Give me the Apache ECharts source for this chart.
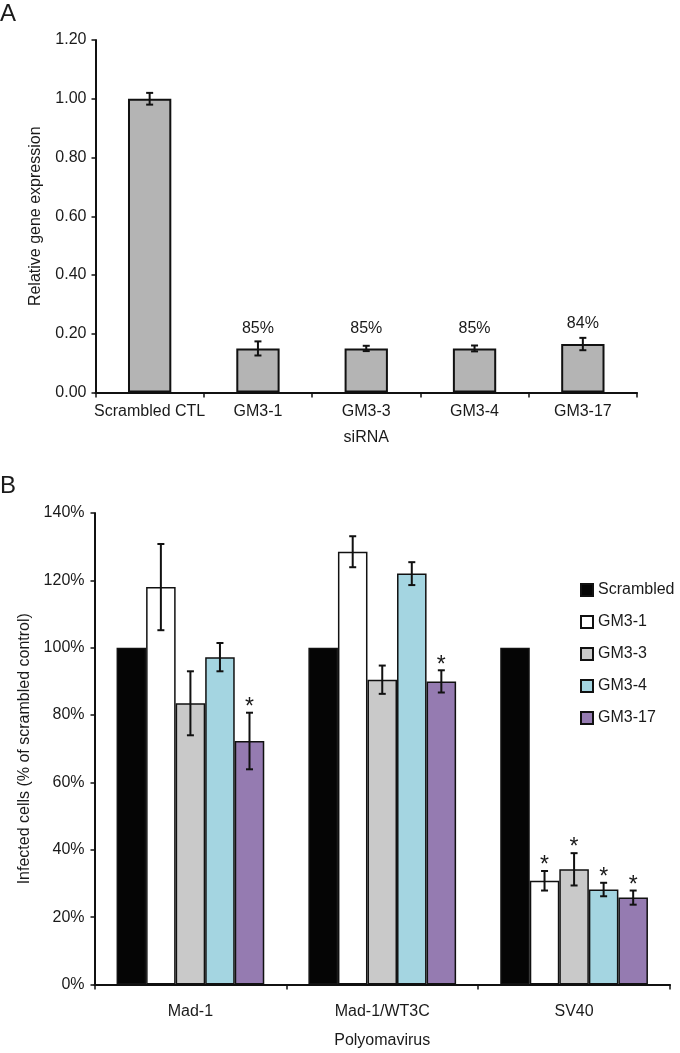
<!DOCTYPE html>
<html>
<head>
<meta charset="utf-8">
<script src="https://cdn.jsdelivr.net/npm/echarts@6/dist/echarts.min.js"></script>
<style>
html,body{margin:0;padding:0;background:#fff;}
#chart{width:680px;height:1053px;}
</style>
</head>
<body>
<div id="chart"></div>
<script>
// ---- Panel A data ----
const catsA = ['Scrambled CTL', 'GM3-1', 'GM3-3', 'GM3-4', 'GM3-17'];
const valsA = [1.00, 0.15, 0.15, 0.15, 0.165];
const errsA = [0.02, 0.024, 0.009, 0.01, 0.021];
const knockdownA = ['', '85%', '85%', '85%', '84%'];
const ticksA = [0, 0.2, 0.4, 0.6, 0.8, 1.0, 1.2];

// ---- Panel B data ----
const catsB = ['Mad-1', 'Mad-1/WT3C', 'SV40'];
const namesB = ['Scrambled', 'GM3-1', 'GM3-3', 'GM3-4', 'GM3-17'];
const scrambledB = [100, 100, 100];
const scrambledErrB = [0, 0, 0];
const gm31B = [118, 128.5, 30.8];
const gm31ErrB = [12.8, 4.6, 2.9];
const gm33B = [83.5, 90.5, 34.2];
const gm33ErrB = [9.5, 4.2, 4.8];
const gm34B = [97.2, 122, 28.2];
const gm34ErrB = [4.2, 3.4, 2.0];
const gm317B = [72.3, 90, 25.8];
const gm317ErrB = [8.4, 3.3, 2.1];
const sigGm31B = [false, false, true];
const sigGm33B = [false, false, true];
const sigGm34B = [false, false, true];
const sigGm317B = [true, true, true];
const ticksB = [0, 20, 40, 60, 80, 100, 120, 140];

const colorsB = ['#050505', '#ffffff', '#c9c9c9', '#a4d5e1', '#957bb1'];
const valsB = [scrambledB, gm31B, gm33B, gm34B, gm317B];
const errsB = [scrambledErrB, gm31ErrB, gm33ErrB, gm34ErrB, gm317ErrB];
const sigsB = [[false, false, false], sigGm31B, sigGm33B, sigGm34B, sigGm317B];

const FONT = '"Liberation Sans", Arial, Helvetica, sans-serif';
const TXT = '#1a1a1a';

function errRender(idx, n, gapFrac, capHalf, sigArr) {
  return function (params, api) {
    const ci = api.value(0), v = api.value(1), e = api.value(2);
    const cw = api.size([1, 0])[0];
    const bw = cw * (1 - gapFrac) / n;
    const off = (idx - (n - 1) / 2) * bw;
    const top = api.coord([ci, v + e]);
    const bot = api.coord([ci, v - e]);
    const x = top[0] + off;
    const st = { stroke: '#111', lineWidth: 2 };
    const children = [];
    if (e > 0) {
      children.push({ type: 'line', shape: { x1: x, y1: top[1], x2: x, y2: bot[1] }, style: st });
      children.push({ type: 'line', shape: { x1: x - capHalf, y1: top[1], x2: x + capHalf, y2: top[1] }, style: st });
      children.push({ type: 'line', shape: { x1: x - capHalf, y1: bot[1], x2: x + capHalf, y2: bot[1] }, style: st });
    }
    if (sigArr && sigArr[ci]) {
      children.push({ type: 'text', x: x, y: top[1] - 5,
        style: { text: '*', fill: TXT, font: '23px ' + FONT, align: 'center', verticalAlign: 'middle' } });
    }
    return { type: 'group', children: children };
  };
}

const series = [];
// Panel A bars
series.push({
  type: 'bar', name: 'A', xAxisIndex: 0, yAxisIndex: 0,
  data: valsA, barCategoryGap: '60%',
  itemStyle: { color: '#b4b4b4', borderColor: '#111', borderWidth: 2 },
  label: { show: true, position: 'top', distance: 12, color: TXT, fontSize: 16, fontFamily: FONT,
    formatter: p => knockdownA[p.dataIndex] }
});
series.push({
  type: 'custom', name: 'errA', xAxisIndex: 0, yAxisIndex: 0, z: 5,
  renderItem: errRender(0, 1, 0.6, 3.5, null),
  data: valsA.map((v, i) => [i, v, errsA[i]])
});
// Panel B bars
namesB.forEach((nm, i) => {
  series.push({
    type: 'bar', name: nm, xAxisIndex: 1, yAxisIndex: 1,
    data: valsB[i], barGap: '0%', barCategoryGap: '23%',
    itemStyle: { color: colorsB[i], borderColor: '#111', borderWidth: 1.5 }
  });
});
namesB.forEach((nm, i) => {
  series.push({
    type: 'custom', name: 'err' + nm, xAxisIndex: 1, yAxisIndex: 1, z: 5,
    renderItem: errRender(i, 5, 0.23, 3.5, sigsB[i]),
    data: valsB[i].map((v, k) => [k, v, errsB[i][k]])
  });
});

const axisLine = { show: true, lineStyle: { color: '#111', width: 2 } };

const option = {
  animation: false,
  backgroundColor: '#fff',
  title: [
    { text: 'A', left: 0, top: 2, padding: 0, textStyle: { fontSize: 24, fontWeight: 'normal', color: TXT, fontFamily: FONT } },
    { text: 'B', left: 0, top: 474, padding: 0, textStyle: { fontSize: 24, fontWeight: 'normal', color: TXT, fontFamily: FONT } }
  ],
  legend: {
    data: namesB, orient: 'vertical', left: 580, top: 582, padding: 0,
    itemWidth: 12, itemHeight: 12, itemGap: 16, icon: 'rect',
    textStyle: { fontSize: 16, color: TXT, fontFamily: FONT, lineHeight: 16 }
  },
  grid: [
    { left: 95.5, right: 43, top: 40, bottom: 660.5 },
    { left: 94.5, right: 10, top: 513, bottom: 68.5 }
  ],
  xAxis: [
    { type: 'category', gridIndex: 0, data: catsA, axisLine: axisLine,
      axisTick: { show: true, alignWithLabel: false, length: 5, lineStyle: { color: '#111', width: 1.5 } },
      axisLabel: { margin: 11, fontSize: 16, color: TXT, fontFamily: FONT, interval: 0 },
      name: 'siRNA', nameLocation: 'middle', nameGap: 37,
      nameTextStyle: { fontSize: 16, color: TXT, fontFamily: FONT } },
    { type: 'category', gridIndex: 1, data: catsB, axisLine: axisLine,
      axisTick: { show: true, length: 5, lineStyle: { color: '#111', width: 1.5 } },
      axisLabel: { margin: 19, fontSize: 16, color: TXT, fontFamily: FONT, interval: 0 },
      name: 'Polyomavirus', nameLocation: 'middle', nameGap: 48,
      nameTextStyle: { fontSize: 16, color: TXT, fontFamily: FONT } }
  ],
  yAxis: [
    { type: 'value', gridIndex: 0, min: ticksA[0], max: ticksA[ticksA.length - 1], interval: 0.2,
      axisLine: axisLine, splitLine: { show: false },
      axisTick: { show: true, length: 4, lineStyle: { color: '#111', width: 1.5 } },
      axisLabel: { margin: 9, fontSize: 16, color: TXT, fontFamily: FONT, formatter: v => v.toFixed(2) },
      name: 'Relative gene expression', nameLocation: 'middle', nameGap: 52, nameRotate: 90,
      nameTextStyle: { fontSize: 16, color: TXT, fontFamily: FONT } },
    { type: 'value', gridIndex: 1, min: ticksB[0], max: ticksB[ticksB.length - 1], interval: 20,
      axisLine: axisLine, splitLine: { show: false },
      axisTick: { show: true, length: 4, lineStyle: { color: '#111', width: 1.5 } },
      axisLabel: { margin: 10, fontSize: 16, color: TXT, fontFamily: FONT, formatter: v => v + '%' },
      name: 'Infected cells (% of scrambled control)', nameLocation: 'middle', nameGap: 52, nameRotate: 90,
      nameTextStyle: { fontSize: 16, color: TXT, fontFamily: FONT } }
  ],
  series: series
};

const chart = echarts.init(document.getElementById('chart'), null, { renderer: 'canvas' });
chart.setOption(option);
</script>
</body>
</html>
